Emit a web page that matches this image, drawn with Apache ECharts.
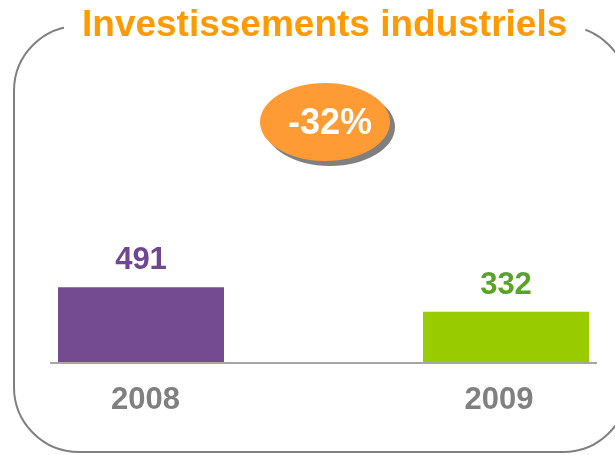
<!DOCTYPE html>
<html>
<head>
<meta charset="utf-8">
<script src="https://cdn.jsdelivr.net/npm/echarts@6/dist/echarts.min.js"></script>
<style>
html,body{margin:0;padding:0;background:#fff;}
#chart{width:615px;height:455px;}
</style>
</head>
<body>
<div id="chart"></div>
<script>
var titleText = 'Investissements industriels';
var categories = ['2008', '2009'];
var values = [491, 332];
var barColors = ['#744A90', '#99CC00'];
var labelColors = ['#6F4691', '#5BA323'];
var changeText = '-32%';

var FONT = '"Liberation Sans", Arial, sans-serif';
var chart = echarts.init(document.getElementById('chart'), null, {renderer: 'canvas'});

var option = {
  backgroundColor: '#ffffff',
  animation: false,
  title: {
    text: titleText,
    left: 64,
    top: 3,
    padding: [4, 18],
    backgroundColor: '#ffffff',
    textStyle: {
      fontFamily: FONT,
      fontSize: 37,
      fontWeight: 'bold',
      color: '#FF9A00'
    }
  },
  grid: {
    left: 141,
    right: 109,
    top: 208.7,
    bottom: 92,
    containLabel: false
  },
  xAxis: {
    type: 'category',
    data: categories,
    boundaryGap: false,
    axisLine: {show: false},
    axisTick: {show: false},
    splitLine: {show: false},
    axisLabel: {
      margin: 22,
      fontFamily: FONT,
      fontSize: 31,
      fontWeight: 'bold',
      color: '#808080',
      formatter: function (v, i) { return '{' + (i === 0 ? 'a' : 'b') + '|' + v + '}'; },
      rich: {
        a: {fontFamily: FONT, fontSize: 31, fontWeight: 'bold', color: '#808080', padding: [0, 0, 0, 9]},
        b: {fontFamily: FONT, fontSize: 31, fontWeight: 'bold', color: '#808080', padding: [0, 14, 0, 0]}
      }
    }
  },
  yAxis: {
    type: 'value',
    min: 0,
    max: 1000,
    show: false
  },
  series: [{
    type: 'bar',
    clip: false,
    barWidth: 166,
    data: values.map(function (v, i) {
      return {
        value: v,
        itemStyle: {color: barColors[i]},
        label: {color: labelColors[i]}
      };
    }),
    label: {
      show: true,
      position: 'top',
      distance: 11,
      fontFamily: FONT,
      fontSize: 31,
      fontWeight: 'bold'
    }
  }],
  graphic: [
    {
      type: 'rect',
      z: -10,
      shape: {x: 14, y: 26, width: 614, height: 426, r: 65},
      style: {fill: 'none', stroke: '#808080', lineWidth: 2}
    },
    {
      type: 'line',
      z: 10,
      shape: {x1: 50, y1: 363, x2: 597, y2: 363},
      style: {stroke: '#A6A6A6', lineWidth: 2}
    },
    {
      type: 'ellipse',
      z: 20,
      shape: {cx: 330, cy: 127, rx: 65, ry: 39},
      style: {fill: '#808080'}
    },
    {
      type: 'ellipse',
      z: 21,
      shape: {cx: 325, cy: 122, rx: 65, ry: 39},
      style: {fill: '#FF9B35'}
    },
    {
      type: 'text',
      z: 22,
      x: 330,
      y: 124,
      style: {
        text: changeText,
        fontFamily: FONT,
        fontSize: 36,
        fontWeight: 'bold',
        fill: '#ffffff',
        textAlign: 'center',
        textVerticalAlign: 'middle'
      }
    }
  ]
};
chart.setOption(option);
</script>
</body>
</html>
